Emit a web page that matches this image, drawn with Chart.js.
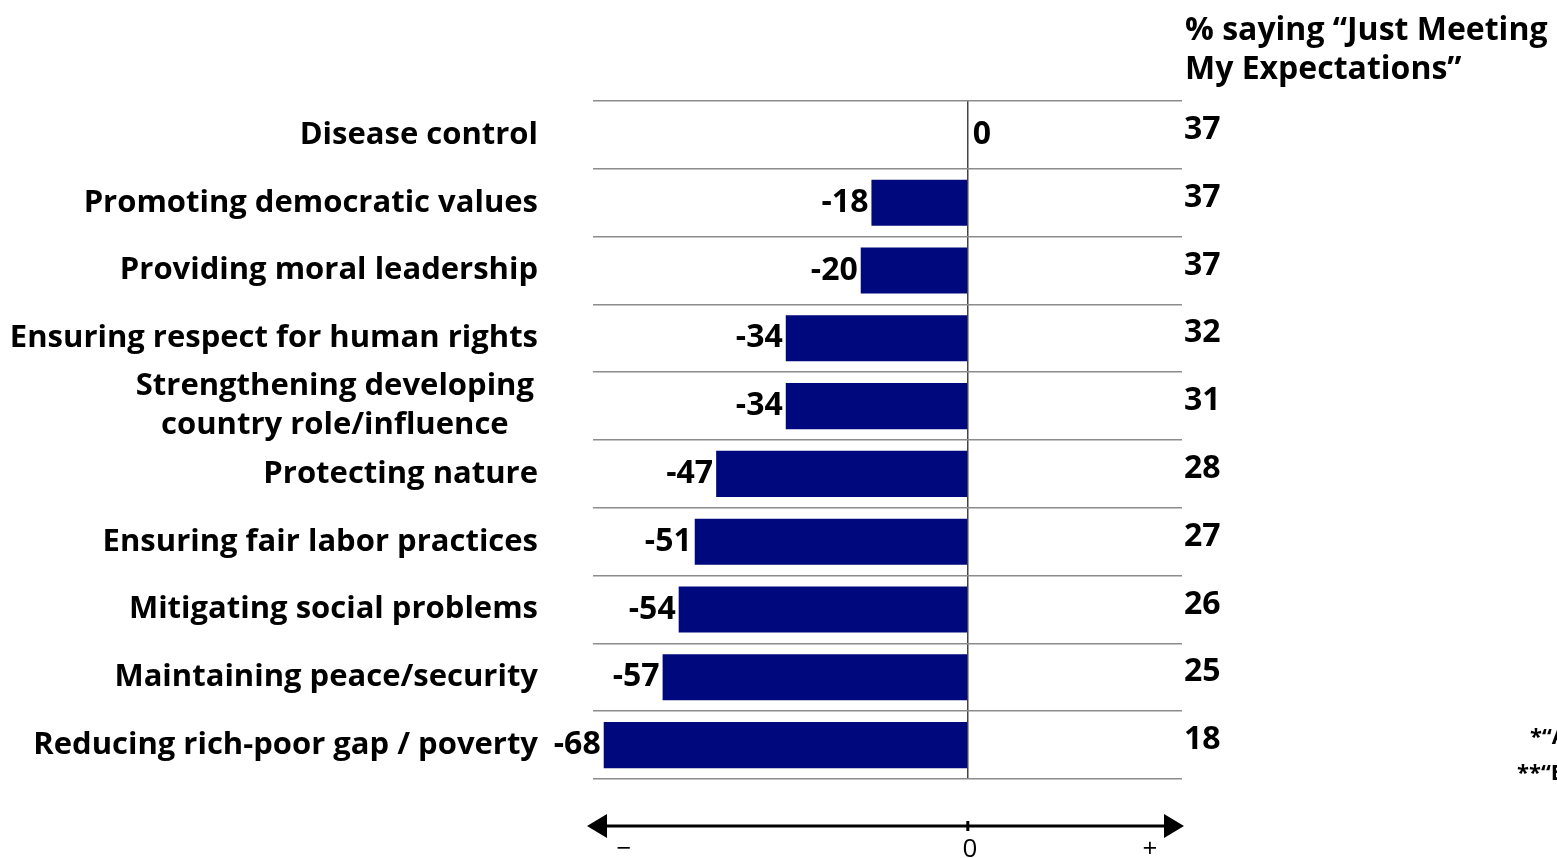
<!DOCTYPE html>
<html>
<head>
<meta charset="utf-8">
<script src="https://cdn.jsdelivr.net/npm/chart.js@4.4.1/dist/chart.umd.min.js"></script>
<style>
  html, body { margin: 0; padding: 0; background: #fff; overflow: hidden; }
  #wrap { width: 1557px; height: 858px; }
</style>
</head>
<body>
<div id="wrap"><canvas id="netChart" width="1557" height="858"></canvas></div>
<script>
const categories = [
  ['Disease control'],
  ['Promoting democratic values'],
  ['Providing moral leadership'],
  ['Ensuring respect for human rights'],
  ['Strengthening developing', 'country role/influence'],
  ['Protecting nature'],
  ['Ensuring fair labor practices'],
  ['Mitigating social problems'],
  ['Maintaining peace/security'],
  ['Reducing rich-poor gap / poverty']
];
const netValues = [0, -18, -20, -34, -34, -47, -51, -54, -57, -68];
const justMeeting = [37, 37, 37, 32, 31, 28, 27, 26, 25, 18];
const sideTitle = ['% saying \u201cJust Meeting', 'My Expectations\u201d'];
const axisMarks = ['\u2212', '0', '+'];
const footnotes = ['*\u201cAbove My Expectations\u201d', '**\u201cBelow My Expectations\u201d'];

const FONT = '"Open Sans", "DejaVu Sans", sans-serif';

// Labels, right column and the -/0/+ arrow
const decorations = {
  id: 'decorations',
  afterDatasetsDraw(chart) {
    const ctx = chart.ctx;
    const meta = chart.getDatasetMeta(0);
    ctx.save();
    ctx.fillStyle = '#000';
    ctx.font = 'bold 32px ' + FONT;
    ctx.textBaseline = 'middle';
    meta.data.forEach((bar, i) => {
      const v = netValues[i];
      if (v < 0) {
        ctx.textAlign = 'right';
        ctx.fillText(String(v), bar.x - 3, bar.y);
      } else {
        ctx.textAlign = 'left';
        ctx.fillText(String(v), bar.x + 5, bar.y);
      }
    });
    ctx.restore();
  },
  afterDraw(chart) {
    const ctx = chart.ctx;
    const x = chart.scales.x;
    const y = chart.scales.y;
    ctx.save();
    ctx.fillStyle = '#000';
    ctx.textBaseline = 'middle';

    // category labels
    ctx.font = 'bold 31px ' + FONT;
    categories.forEach((lines, i) => {
      const cy = y.getPixelForValue(i);
      if (lines.length === 1) {
        ctx.textAlign = 'right';
        ctx.fillText(lines[0], 538, cy);
      } else {
        const widest = Math.max(...lines.map(l => ctx.measureText(l).width));
        const cx = 534 - widest / 2;
        ctx.textAlign = 'center';
        lines.forEach((l, k) => {
          ctx.fillText(l, cx, cy + (k - (lines.length - 1) / 2) * 39);
        });
      }
    });

    // right column
    ctx.font = 'bold 32px ' + FONT;
    ctx.textAlign = 'left';
    justMeeting.forEach((v, i) => {
      ctx.fillText(String(v), x.right + 2, y.getPixelForValue(i) - 5);
    });
    ctx.fillText(sideTitle[0], x.right + 3, 31);
    ctx.fillText(sideTitle[1], x.right + 3, 70);

    // footnotes (run off the right edge)
    ctx.font = 'bold 22px ' + FONT;
    ctx.fillText(footnotes[0], 1530, 738);
    ctx.fillText(footnotes[1], 1517, 774);

    // arrow axis
    const ay = 826;
    const zx = x.getPixelForValue(0);
    ctx.strokeStyle = '#000';
    ctx.lineWidth = 3;
    ctx.beginPath();
    ctx.moveTo(x.left + 10, ay);
    ctx.lineTo(x.right - 10, ay);
    ctx.moveTo(zx, ay - 5);
    ctx.lineTo(zx, ay + 5);
    ctx.stroke();
    ctx.beginPath();
    ctx.moveTo(x.left - 6, ay);
    ctx.lineTo(x.left + 14, ay - 12);
    ctx.lineTo(x.left + 14, ay + 12);
    ctx.closePath();
    ctx.moveTo(x.right + 2, ay);
    ctx.lineTo(x.right - 18, ay - 12);
    ctx.lineTo(x.right - 18, ay + 12);
    ctx.closePath();
    ctx.fill();

    ctx.font = '26px ' + FONT;
    ctx.textAlign = 'center';
    ctx.fillText(axisMarks[0], x.left + 31, 850);
    ctx.fillText(axisMarks[1], zx + 2, 850);
    ctx.fillText(axisMarks[2], x.right - 32, 850);
    ctx.restore();
  }
};

const netChart = new Chart(document.getElementById('netChart').getContext('2d'), {
  type: 'bar',
  data: {
    labels: categories.map(c => c.join(' ')),
    datasets: [{
      data: netValues,
      backgroundColor: '#00087e',
      borderWidth: 0,
      categoryPercentage: 1,
      barPercentage: 0.68
    }]
  },
  options: {
    indexAxis: 'y',
    responsive: false,
    animation: false,
    layout: {
      padding: { left: 593, right: 375, top: 101, bottom: 79 }
    },
    plugins: {
      legend: { display: false },
      tooltip: { enabled: false }
    },
    scales: {
      x: {
        min: -70,
        max: 40,
        ticks: { display: false, stepSize: 10 },
        border: { display: false },
        grid: {
          drawTicks: false,
          lineWidth: 1.5,
          color: c => (c.tick && c.tick.value === 0) ? '#444' : 'rgba(0,0,0,0)'
        }
      },
      y: {
        ticks: { display: false },
        border: { display: false },
        grid: {
          drawTicks: false,
          offset: true,
          color: '#8c8c8c',
          lineWidth: 1.5
        },
        afterFit(scale) { scale.width = 0; }
      }
    }
  },
  plugins: [decorations]
});
</script>
</body>
</html>
